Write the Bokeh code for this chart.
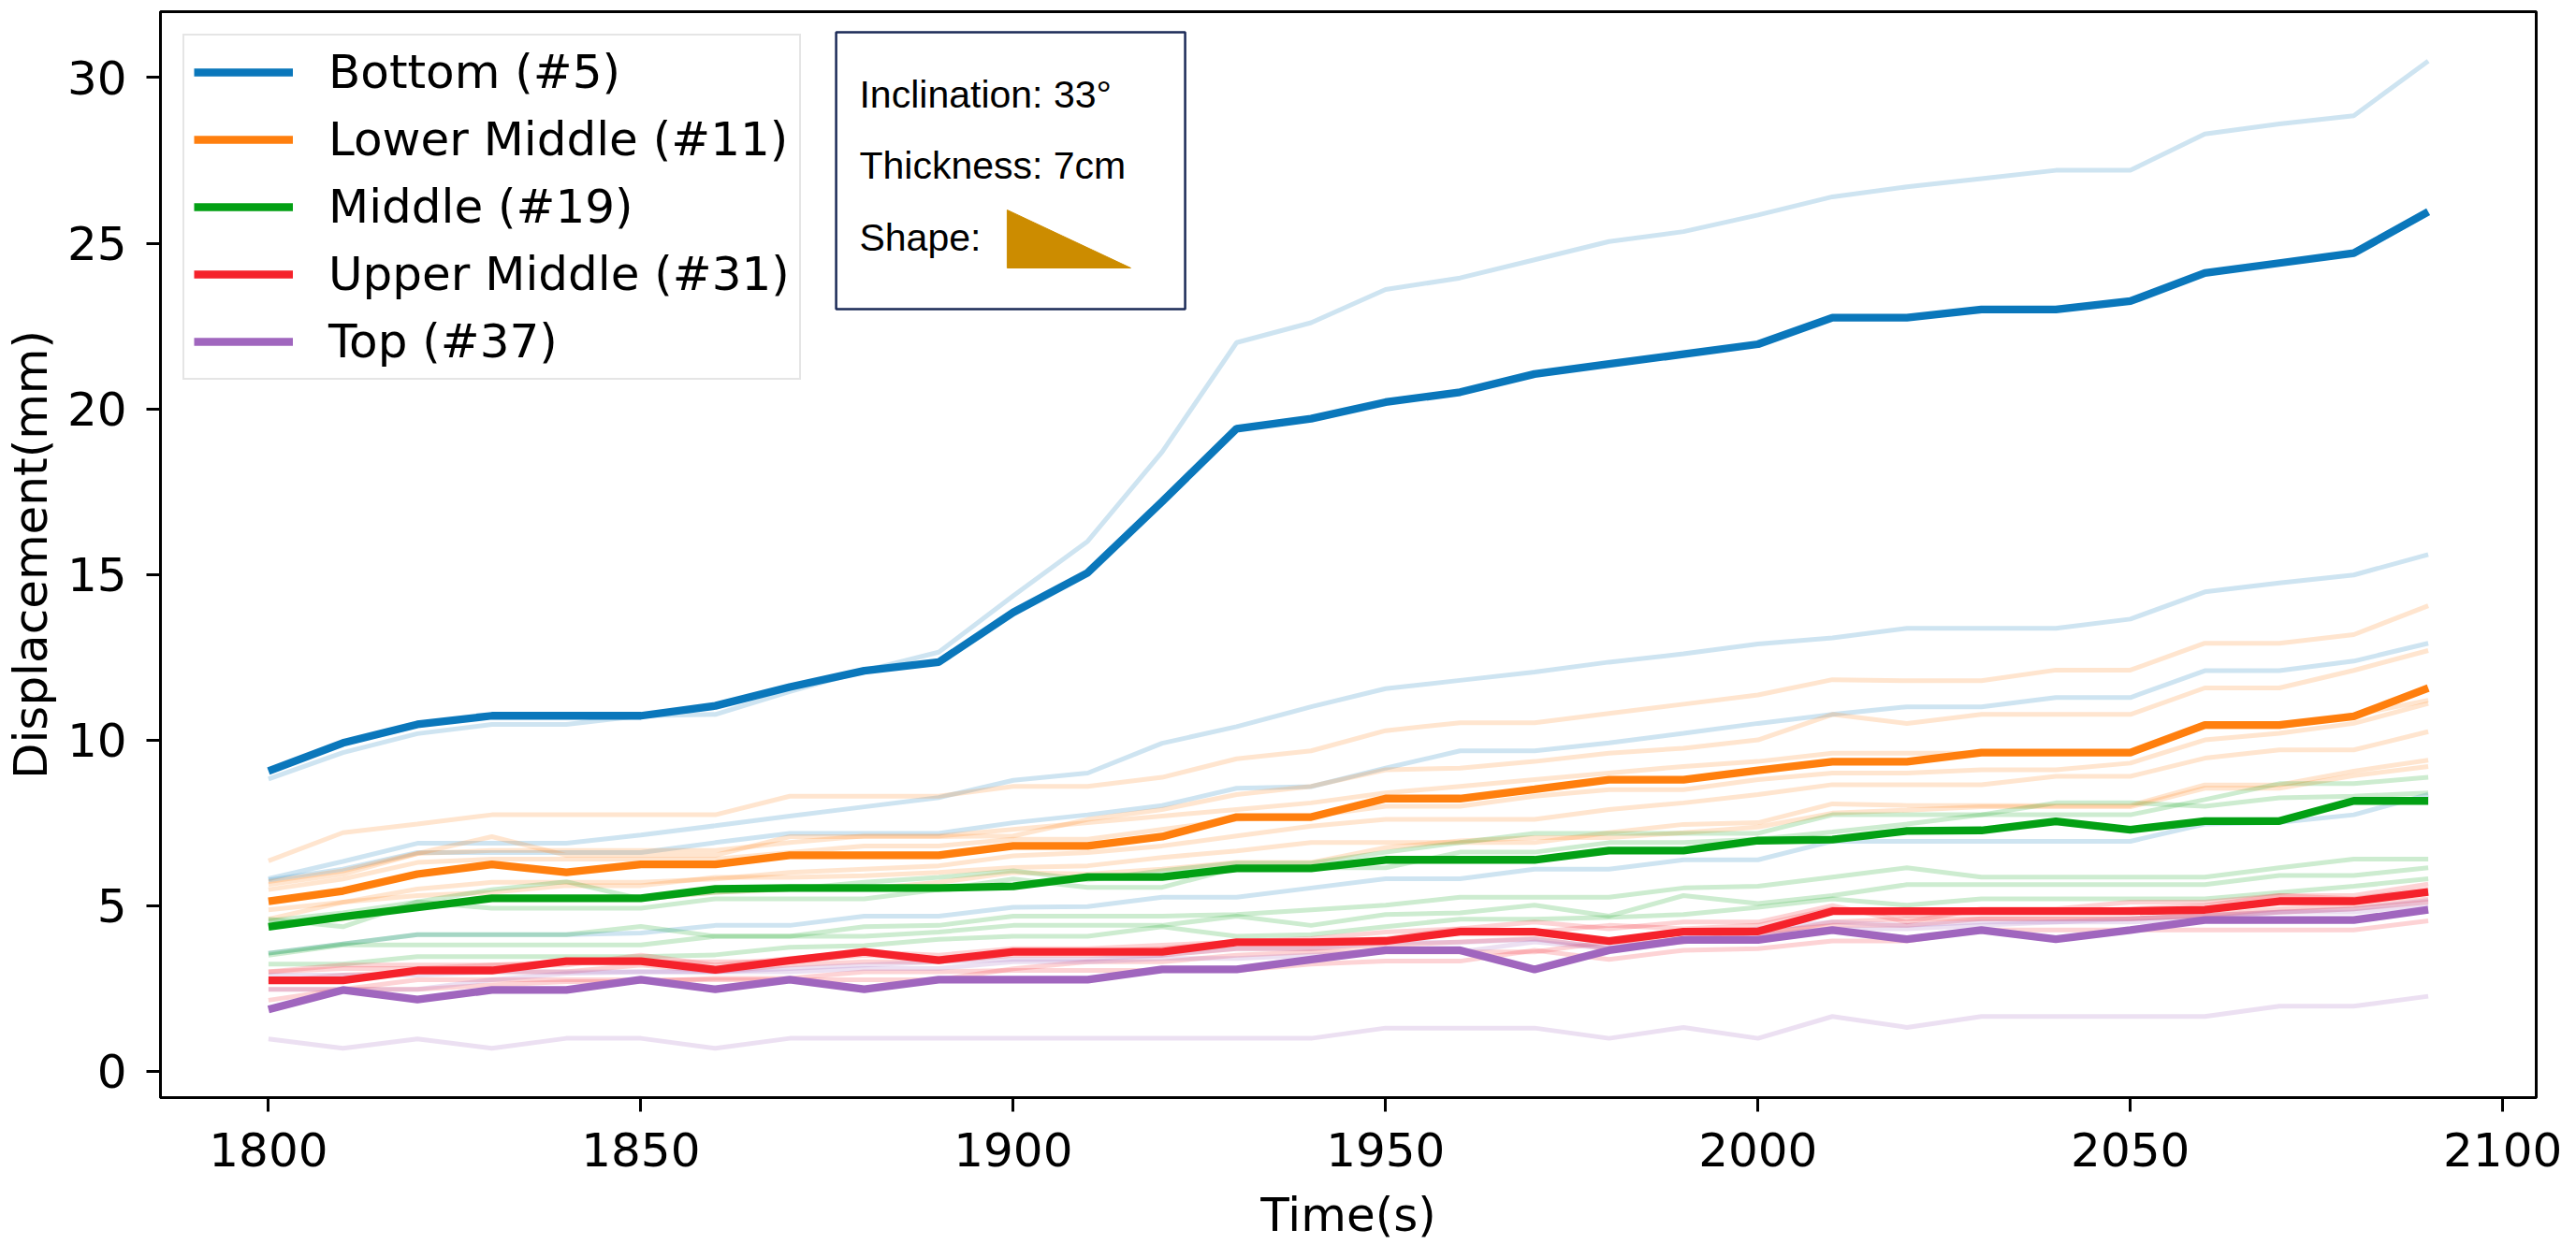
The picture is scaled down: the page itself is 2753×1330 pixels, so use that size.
from bokeh.plotting import figure
from bokeh.models import Range1d, FixedTicker, Legend, LegendItem, Label
from bokeh.embed import file_html
from bokeh.resources import INLINE

# ---------------- data ----------------
time_s = [1800, 1810, 1820, 1830, 1840, 1850, 1860, 1870, 1880, 1890,
          1900, 1910, 1920, 1930, 1940, 1950, 1960, 1970, 1980, 1990,
          2000, 2010, 2020, 2030, 2040, 2050, 2060, 2070, 2080, 2090]

# highlighted sensors
bottom_5 = [9.06, 9.91, 10.47, 10.73, 10.73, 10.73, 11.03, 11.6, 12.09, 12.35,
            13.85, 15.05, 17.2, 19.4, 19.7, 20.2, 20.5, 21.05, 21.35, 21.65,
            21.95, 22.75, 22.75, 23.0, 23.0, 23.25, 24.1, 24.4, 24.7, 25.95]
lower_middle_11 = [5.13, 5.44, 5.95, 6.24, 6.0, 6.24, 6.24, 6.52, 6.52, 6.52,
                   6.8, 6.8, 7.08, 7.67, 7.67, 8.23, 8.23, 8.51, 8.8, 8.8,
                   9.08, 9.34, 9.34, 9.62, 9.62, 9.62, 10.45, 10.45, 10.71, 11.57]
middle_19 = [4.36, 4.66, 4.94, 5.22, 5.22, 5.22, 5.5, 5.53, 5.53, 5.53,
             5.58, 5.86, 5.86, 6.12, 6.12, 6.38, 6.38, 6.38, 6.66, 6.66,
             6.96, 6.99, 7.25, 7.27, 7.54, 7.29, 7.55, 7.55, 8.16, 8.16]
upper_middle_31 = [2.74, 2.74, 3.04, 3.04, 3.32, 3.32, 3.06, 3.34, 3.6, 3.35,
                   3.6, 3.6, 3.6, 3.89, 3.89, 3.93, 4.21, 4.21, 3.93, 4.21,
                   4.22, 4.83, 4.83, 4.83, 4.83, 4.83, 4.87, 5.13, 5.13, 5.41]
top_37 = [1.86, 2.45, 2.16, 2.45, 2.45, 2.76, 2.47, 2.76, 2.47, 2.76,
          2.76, 2.76, 3.07, 3.07, 3.37, 3.65, 3.65, 3.07, 3.65, 3.96,
          3.96, 4.26, 3.98, 4.26, 3.98, 4.26, 4.56, 4.56, 4.56, 4.87]

# other sensors of each zone (faint)
bottom_zone_a = [8.82, 9.62, 10.19, 10.47, 10.47, 10.73, 10.77, 11.46, 12.09, 12.65,
                 14.35, 16.0, 18.7, 22.0, 22.6, 23.6, 23.95, 24.5, 25.05, 25.35,
                 25.85, 26.4, 26.7, 26.95, 27.2, 27.2, 28.3, 28.6, 28.85, 30.5]
bottom_zone_b = [5.81, 6.33, 6.88, 6.88, 6.88, 7.13, 7.41, 7.7, 7.98, 8.26,
                 8.78, 9.0, 9.9, 10.4, 11.0, 11.55, 11.8, 12.05, 12.35, 12.6,
                 12.9, 13.08, 13.37, 13.37, 13.37, 13.65, 14.47, 14.74, 14.98, 15.6]
bottom_zone_c = [5.77, 6.1, 6.6, 6.6, 6.6, 6.6, 6.9, 7.18, 7.18, 7.18,
                 7.5, 7.74, 8.02, 8.54, 8.59, 9.15, 9.67, 9.67, 9.91, 10.2,
                 10.5, 10.77, 11.0, 11.0, 11.28, 11.28, 12.09, 12.09, 12.38, 12.92]
bottom_zone_d = [3.56, 3.84, 4.12, 4.12, 4.12, 4.17, 4.4, 4.4, 4.68, 4.68,
                 4.95, 4.97, 5.25, 5.25, 5.53, 5.81, 5.81, 6.1, 6.1, 6.38,
                 6.38, 6.94, 6.94, 6.94, 6.94, 6.94, 7.46, 7.51, 7.74, 8.35]

lower_zone_a = [6.35, 7.2, 7.46, 7.74, 7.74, 7.74, 7.74, 8.3, 8.3, 8.3,
                8.6, 8.6, 8.87, 9.43, 9.67, 10.28, 10.52, 10.52, 10.8, 11.08,
                11.36, 11.82, 11.79, 11.79, 12.11, 12.11, 12.92, 12.92, 13.18, 14.05]
lower_zone_b = [5.72, 6.05, 6.57, 7.08, 6.52, 6.52, 6.52, 7.08, 7.08, 7.08,
                7.1, 7.6, 7.9, 8.35, 8.6, 9.1, 9.15, 9.35, 9.6, 9.75,
                10.0, 10.77, 10.5, 10.77, 10.77, 10.77, 11.57, 11.57, 12.1, 12.7]
lower_zone_c = [5.63, 5.95, 6.57, 6.66, 6.66, 6.66, 6.66, 6.9, 7.1, 7.1,
                7.3, 7.5, 7.7, 7.9, 8.1, 8.4, 8.6, 8.8, 9.0, 9.2,
                9.35, 9.6, 9.6, 9.6, 9.6, 9.6, 10.4, 10.4, 10.75, 11.2]
lower_zone_d = [5.48, 5.8, 6.3, 6.4, 6.4, 6.4, 6.4, 6.6, 6.8, 6.8,
                7.0, 7.0, 7.3, 7.6, 7.7, 8.0, 8.0, 8.3, 8.5, 8.5,
                8.8, 9.0, 9.0, 9.1, 9.1, 9.3, 10.0, 10.2, 10.5, 11.1]
lower_zone_e = [4.87, 5.1, 5.5, 5.7, 5.7, 5.7, 5.8, 6.0, 6.1, 6.2,
                6.5, 6.6, 6.8, 7.1, 7.4, 7.6, 7.6, 7.6, 7.9, 8.1,
                8.35, 8.65, 8.65, 8.65, 8.9, 8.9, 9.45, 9.7, 9.7, 10.25]
lower_zone_f = [4.59, 5.1, 5.3, 5.4, 5.6, 5.6, 5.85, 5.85, 5.9, 6.0,
                6.15, 6.2, 6.45, 6.65, 6.9, 6.9, 6.9, 6.9, 7.2, 7.45,
                7.5, 8.07, 8.02, 8.02, 8.02, 8.02, 8.64, 8.64, 9.06, 9.39]
lower_zone_g = [4.4, 4.6, 5.0, 5.2, 5.2, 5.2, 5.4, 5.5, 5.5, 5.7,
                6.0, 5.95, 6.1, 6.3, 6.3, 6.75, 6.95, 7.05, 7.05, 7.2,
                7.37, 7.79, 7.88, 7.98, 7.98, 7.98, 8.54, 8.54, 8.92, 9.2]

middle_zone_a = [4.59, 4.36, 5.11, 5.48, 5.72, 5.2, 5.4, 5.5, 5.7, 5.85,
                 6.05, 5.77, 6.05, 6.28, 6.28, 6.61, 6.9, 7.18, 7.18, 7.18,
                 7.18, 7.74, 7.74, 7.74, 7.74, 7.74, 8.2, 8.68, 8.68, 8.87]
middle_zone_b = [4.54, 4.78, 5.11, 4.92, 4.92, 4.92, 5.2, 5.2, 5.2, 5.48,
                 5.8, 5.55, 5.55, 6.14, 6.14, 6.14, 6.61, 6.61, 6.9, 6.9,
                 7.0, 7.22, 7.46, 7.74, 8.1, 8.1, 8.0, 8.25, 8.3, 8.4]
middle_zone_c = [3.56, 3.84, 4.12, 4.12, 4.12, 4.37, 4.07, 4.07, 4.36, 4.4,
                 4.68, 4.68, 4.68, 4.73, 4.87, 5.01, 5.25, 5.25, 5.25, 5.53,
                 5.58, 5.86, 6.14, 5.86, 5.86, 5.86, 5.86, 6.14, 6.4, 6.4]
middle_zone_d = [3.5, 3.81, 3.81, 3.81, 3.81, 3.81, 4.07, 4.07, 4.07, 4.2,
                 4.4, 4.4, 4.4, 4.68, 4.4, 4.73, 4.78, 5.01, 4.68, 5.3,
                 5.06, 5.3, 5.63, 5.63, 5.63, 5.63, 5.63, 5.91, 5.91, 6.14]
middle_zone_e = [3.23, 3.23, 3.46, 3.46, 3.46, 3.46, 3.51, 3.74, 3.79, 3.98,
                 4.07, 4.07, 4.36, 4.07, 4.12, 4.36, 4.59, 4.59, 4.64, 4.73,
                 4.95, 5.2, 5.01, 5.2, 5.2, 5.2, 5.2, 5.39, 5.58, 5.81]

upper_zone_a = [3.0, 3.2, 3.2, 3.2, 3.2, 3.5, 3.2, 3.4, 3.6, 3.5,
                3.7, 3.7, 3.8, 3.9, 4.0, 4.2, 4.3, 4.5, 4.3, 4.5,
                4.5, 5.0, 4.5, 4.9, 4.9, 5.1, 5.1, 5.3, 5.3, 5.65]
upper_zone_b = [3.0, 3.1, 3.1, 3.2, 3.3, 3.3, 3.3, 3.3, 3.5, 3.4,
                3.6, 3.6, 3.7, 3.9, 3.9, 4.0, 4.3, 4.2, 4.4, 4.3,
                4.4, 4.9, 4.7, 4.8, 4.8, 4.9, 5.0, 5.3, 5.2, 5.5]
upper_zone_c = [2.7, 2.9, 3.0, 3.0, 3.0, 3.2, 3.0, 3.2, 3.3, 3.3,
                3.5, 3.5, 3.5, 3.7, 3.7, 3.8, 3.9, 4.0, 3.7, 4.0,
                4.1, 4.5, 4.6, 4.6, 4.6, 4.6, 4.7, 4.9, 5.0, 5.2]
upper_zone_d = [2.47, 2.47, 2.47, 2.6, 2.7, 2.7, 2.8, 2.8, 3.0, 3.0,
                3.04, 3.04, 3.04, 3.04, 3.23, 3.32, 3.32, 3.65, 3.37, 3.65,
                3.7, 3.93, 3.93, 4.26, 4.26, 4.26, 4.26, 4.26, 4.26, 4.54]
upper_zone_e = [2.14, 2.47, 2.76, 2.76, 2.76, 2.76, 2.76, 2.76, 2.76, 2.76,
                3.09, 3.3, 3.3, 3.5, 3.6, 3.6, 3.6, 3.6, 3.9, 3.9,
                4.2, 4.4, 4.4, 4.6, 4.6, 4.6, 4.7, 4.8, 4.9, 5.1]

top_zone_a = [0.97, 0.69, 0.97, 0.69, 0.99, 0.99, 0.69, 0.99, 0.99, 0.99,
              0.99, 0.99, 0.99, 0.99, 0.99, 1.3, 1.3, 1.3, 0.99, 1.32,
              0.99, 1.65, 1.32, 1.65, 1.65, 1.65, 1.65, 1.96, 1.96, 2.26]
top_zone_b = [2.47, 2.47, 2.47, 2.76, 2.95, 3.0, 3.0, 3.1, 3.2, 3.3,
              3.37, 3.37, 3.51, 3.7, 3.7, 3.89, 3.89, 3.98, 3.74, 4.0,
              4.3, 4.5, 4.4, 4.5, 4.5, 4.6, 4.7, 4.8, 4.9, 5.15]
top_zone_c = [2.9, 2.9, 2.9, 3.0, 3.0, 3.0, 3.0, 3.0, 3.1, 3.1,
              3.3, 3.3, 3.4, 3.4, 3.5, 3.6, 3.6, 3.9, 3.7, 3.9,
              4.1, 4.3, 4.3, 4.4, 4.5, 4.5, 4.6, 4.8, 4.8, 5.0]

series_labels = ["Bottom (#5)", "Lower Middle (#11)", "Middle (#19)",
                 "Upper Middle (#31)", "Top (#37)"]
x_ticks = [1800, 1850, 1900, 1950, 2000, 2050, 2100]
y_ticks = [0, 5, 10, 15, 20, 25, 30]

# ---------------- styles ----------------
colors = ["#0a77bb", "#ff7f0e", "#03a014", "#f5222b", "#a066be"]
main_series = [bottom_5, lower_middle_11, middle_19, upper_middle_31, top_37]
faint_groups = [
    [bottom_zone_a, bottom_zone_b, bottom_zone_c, bottom_zone_d],
    [lower_zone_a, lower_zone_b, lower_zone_c, lower_zone_d, lower_zone_e, lower_zone_f, lower_zone_g],
    [middle_zone_a, middle_zone_b, middle_zone_c, middle_zone_d, middle_zone_e],
    [upper_zone_a, upper_zone_b, upper_zone_c, upper_zone_d, upper_zone_e],
    [top_zone_a, top_zone_b, top_zone_c],
]

all_vals = [v for s in main_series for v in s] + [v for g in faint_groups for s in g for v in s]
ymin, ymax = min(all_vals), max(all_vals)
xmin, xmax = min(time_s), max(time_s)
x_lo, x_hi = xmin - 0.05 * (xmax - xmin), xmax + 0.05 * (xmax - xmin)
y_lo, y_hi = ymin - 0.05 * (ymax - ymin), ymax + 0.05 * (ymax - ymin)

W, H = 2750, 1330
p = figure(width=W, height=H, output_backend="svg", toolbar_location=None,
           x_range=Range1d(x_lo, x_hi), y_range=Range1d(y_lo, y_hi),
           min_border_left=171, min_border_right=40, min_border_top=12, min_border_bottom=157)
p.background_fill_color = "white"
p.border_fill_color = "white"
p.outline_line_color = "black"
p.outline_line_width = 3
p.xgrid.visible = False
p.ygrid.visible = False

for ax in (p.xaxis[0], p.yaxis[0]):
    ax.axis_line_width = 3
    ax.axis_line_color = "black"
    ax.major_tick_line_width = 3
    ax.major_tick_out = 15
    ax.major_tick_in = 0
    ax.minor_tick_line_color = None
    ax.major_label_text_font = "DejaVu Sans"
    ax.major_label_text_font_size = "50px"
    ax.major_label_text_color = "black"
    ax.axis_label_text_font = "DejaVu Sans"
    ax.axis_label_text_font_size = "50px"
    ax.axis_label_text_font_style = "normal"
    ax.axis_label_text_color = "black"

p.xaxis.ticker = FixedTicker(ticks=x_ticks)
p.yaxis.ticker = FixedTicker(ticks=y_ticks)
p.xaxis.axis_label = "Time(s)"
p.yaxis.axis_label = "Displacement(mm)"
p.xaxis.major_label_standoff = 22
p.xaxis.axis_label_standoff = 20
p.yaxis.major_label_standoff = 21
p.yaxis.axis_label_standoff = 7

# faint lines first
for col, group in zip(colors, faint_groups):
    for s in group:
        p.line(time_s, s, line_color=col, line_alpha=0.2, line_width=5)

# info box (drawn as glyphs so the triangle sits on top)
def fx(f):
    return x_lo + f * (x_hi - x_lo)

def fy(f):
    return y_lo + f * (y_hi - y_lo)

p.quad(left=[fx(0.2844)], right=[fx(0.4313)], bottom=[fy(0.726)], top=[fy(0.981)],
       fill_color="white", line_color="#1b2a57", line_width=2.5)
p.patch([fx(0.3564), fx(0.3564), fx(0.4084)], [fy(0.8174), fy(0.764), fy(0.764)],
        fill_color="#cc8c00", line_color="#cc8c00", line_width=1)

info_texts = ["Inclination: 33°", "Thickness: 7cm", "Shape:"]
info_y = [0.9242, 0.8579, 0.7924]
for t, yy in zip(info_texts, info_y):
    p.add_layout(Label(x=fx(0.2942), y=fy(yy), text=t, text_font="Liberation Sans",
                       text_font_size="41px", text_color="black",
                       text_baseline="alphabetic", text_align="left"))

# highlighted lines
renderers = []
for col, s in zip(colors, main_series):
    r = p.line(time_s, s, line_color=col, line_width=8.3)
    renderers.append(r)

legend = Legend(items=[LegendItem(label=l, renderers=[r]) for l, r in zip(series_labels, renderers)],
                location="top_left")
legend.margin = 24
legend.padding = 10
legend.spacing = 14
legend.glyph_width = 106
legend.glyph_height = 56
legend.label_height = 56
legend.label_standoff = 38
legend.label_text_font = "DejaVu Sans"
legend.label_text_font_size = "50px"
legend.label_text_color = "black"
legend.border_line_color = "#cccccc"
legend.border_line_width = 2
legend.background_fill_color = "white"
legend.background_fill_alpha = 0.8
p.add_layout(legend)

open("out.html", "w").write(file_html(p, INLINE))
